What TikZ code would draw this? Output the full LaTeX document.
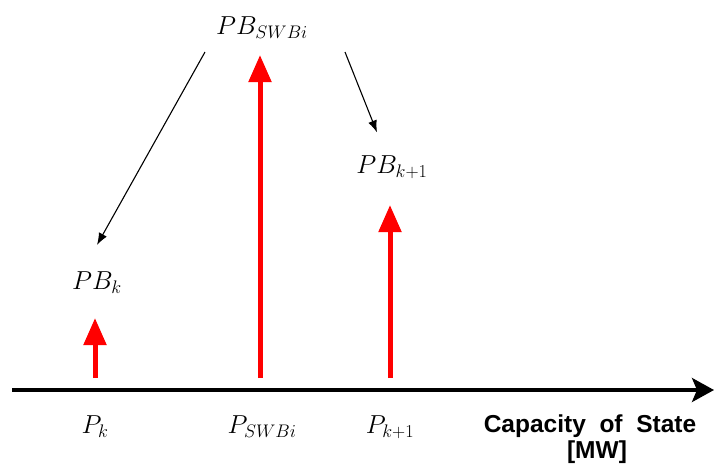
\RequirePackage{fix-cm}
\documentclass[tikz,border=0pt]{standalone}
\usepackage{amsmath}
\usepackage{fontspec}
\newfontfamily\capfont{Liberation Sans}
\usetikzlibrary{arrows.meta}

\tikzset{
    lbl/.style={font=\fontsize{26}{30}\selectfont, inner sep=1pt},
    axislbl/.style={font=\capfont\bfseries\fontsize{24.5}{28}\selectfont, inner sep=0pt},
    bid/.style={draw=red, line width=5pt, -{Triangle[length=27pt,width=22pt]}},
    link/.style={draw=black, line width=1.1pt, -{Latex[length=12pt,width=9pt]}}
}

\begin{document}
\begin{tikzpicture}[x=1pt,y=-1pt]
    \useasboundingbox (0,0) rectangle (726,472);

    % horizontal axis
    \coordinate (o) at (12,390);
    \coordinate (e) at (714,390);
    \draw[line width=3.5pt,-{Stealth[length=22pt,width=24pt,inset=5pt]}] (o) -- (e);

    % bid levels
    \node[lbl] (pbswb) at (262,28) {$PB_{SWBi}$};
    \node[lbl] (pbk) at (97,283) {$PB_k$};
    \node[lbl] (pbkk) at (392,167) {$PB_{k+1}$};

    % capacities
    \node[lbl] (pk) at (95,427) {$P_k$};
    \node[lbl] (pswb) at (262,427) {$P_{SWBi}$};
    \node[lbl] (pkk) at (390,427) {$P_{k+1}$};

    \node[axislbl] (cap) at (590,426) {Capacity\ \ of\ \ State};
    \node[axislbl] (mw) at (597,452) {[MW]};

    % bases of red arrows
    \coordinate (bk) at (95,378);
    \coordinate (bswb) at (260,378);
    \coordinate (bkk) at (390,378);
    \coordinate (tk) at (95,318);
    \coordinate (tswb) at (260,55);
    \coordinate (tkk) at (390,205);

    \draw[bid] (bk) -- (tk);
    \draw[bid] (bswb) -- (tswb);
    \draw[bid] (bkk) -- (tkk);

    % moves
    \coordinate (sl) at (205,52);
    \coordinate (sr) at (345,52);
    \draw[link] (sl) -- ([yshift=26pt]pbk.north);
    \draw[link] (sr) -- ([shift={(-15pt,22pt)}]pbkk.north);
\end{tikzpicture}
\end{document}
